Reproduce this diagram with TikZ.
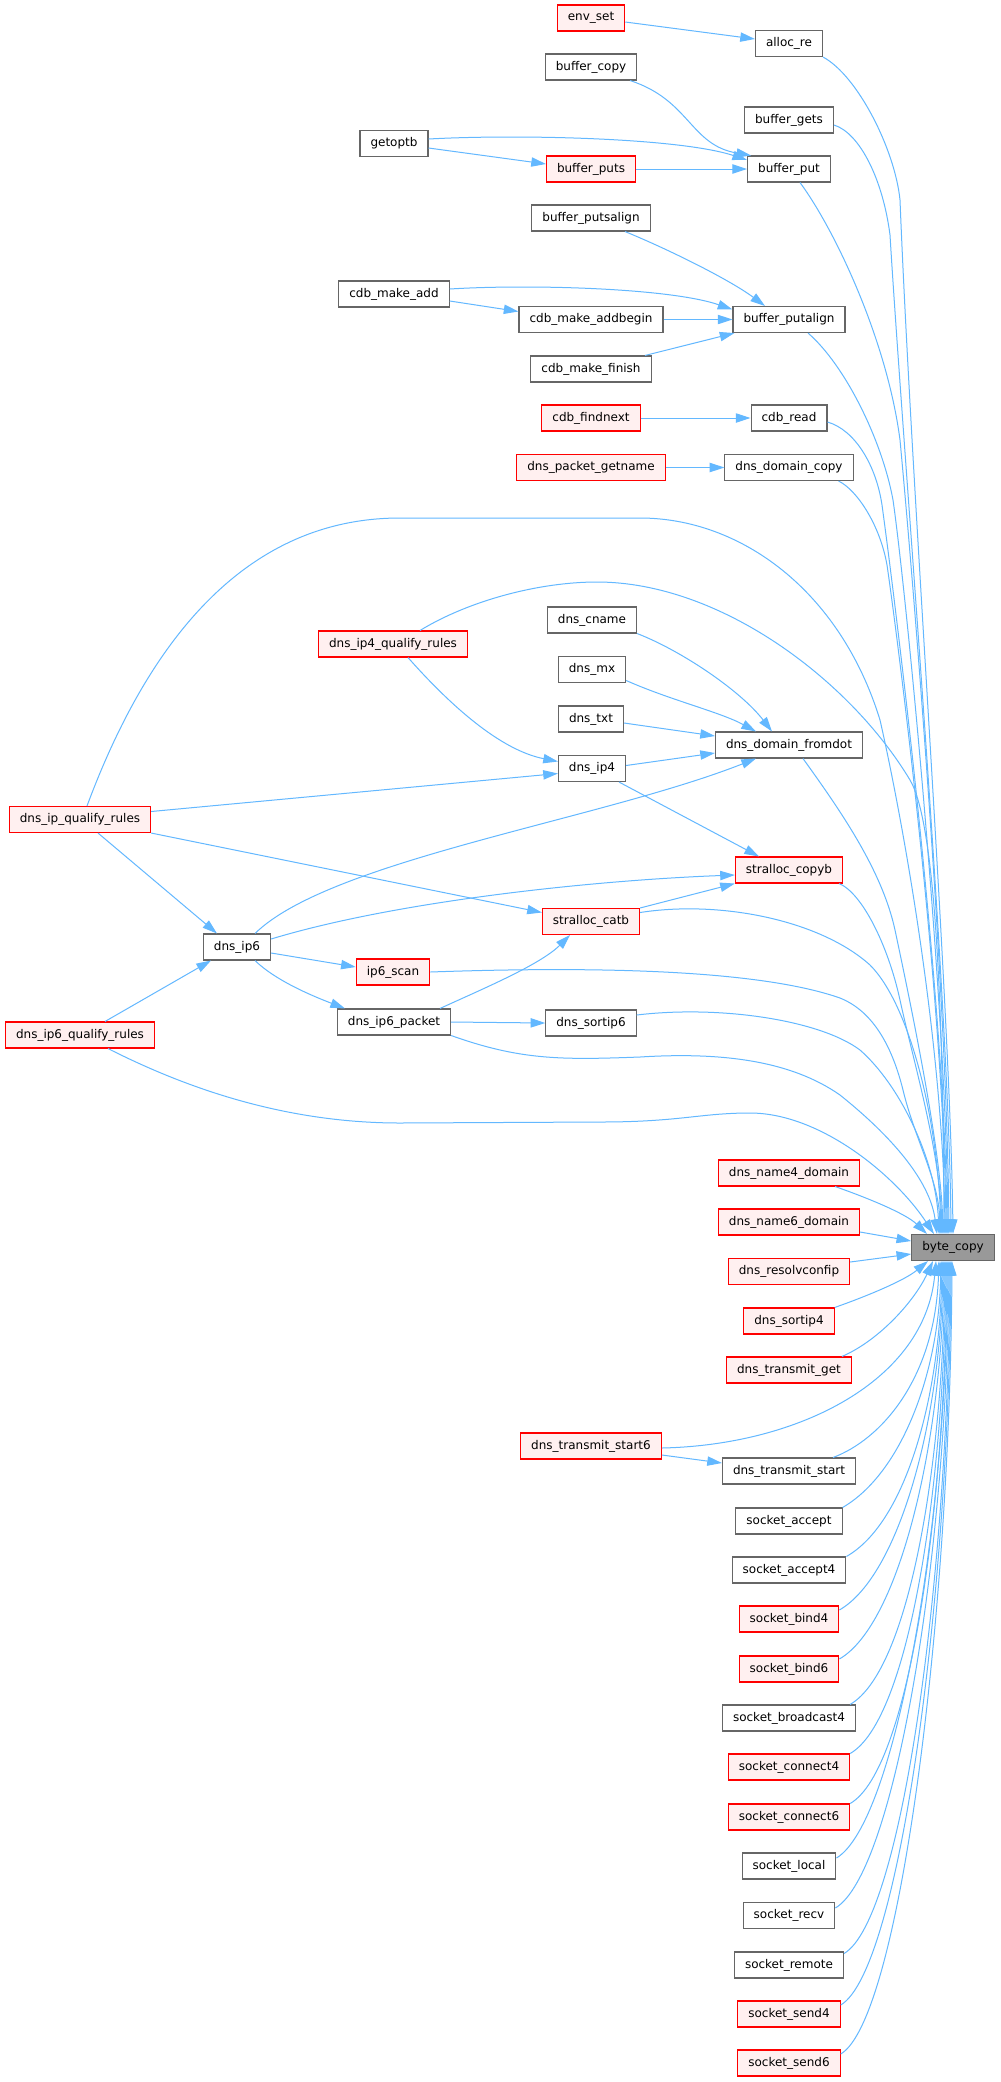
\documentclass[tikz,border=0pt]{standalone}
\usepackage{fontspec}
\setmainfont{DejaVu Sans}
\usetikzlibrary{arrows.meta,calc}
\definecolor{edgec}{HTML}{63B8FF}
\definecolor{grayb}{HTML}{666666}
\definecolor{redfill}{HTML}{FFF0F0}
\definecolor{bcfill}{HTML}{999999}
\begin{document}
\begin{tikzpicture}[x=0.75pt,y=-0.75pt,
  fn/.style={draw=grayb, fill=white, line width=0.8pt, rectangle, minimum height=19.5pt, inner xsep=7.9pt, inner ysep=0pt, font=\fontsize{9}{11}\selectfont, text=black},
  rn/.style={fn, draw=red, fill=redfill},
  bn/.style={fn, fill=bcfill},
  cl/.style={draw=edgec, line width=0.75pt, -{Triangle[length=11pt,width=7pt]}}]
\useasboundingbox[fill=white] (0,0) rectangle (1000,2082);
% nodes
\node[bn] (bc) at (953,1247.5) {byte\_copy};
\node[fn] (alloc) at (789,43.5) {alloc\_re};
\node[rn] (envset) at (591,18) {env\_set};
\node[fn] (bcopy) at (591,67) {buffer\_copy};
\node[fn] (bgets) at (789,120) {buffer\_gets};
\node[fn] (getoptb) at (394,143.5) {getoptb};
\node[rn] (bputs) at (591,169) {buffer\_puts};
\node[fn] (bput) at (789,169) {buffer\_put};
\node[fn] (bpsa) at (591,218) {buffer\_putsalign};
\node[fn] (cma) at (394,294) {cdb\_make\_add};
\node[fn] (cmab) at (591,319.5) {cdb\_make\_addbegin};
\node[fn] (bpa) at (789,319.5) {buffer\_putalign};
\node[fn] (cmf) at (591,369) {cdb\_make\_finish};
\node[rn] (cfind) at (591,418) {cdb\_findnext};
\node[fn] (cread) at (789,418) {cdb\_read};
\node[rn] (dpg) at (591,467.5) {dns\_packet\_getname};
\node[fn] (dcopy) at (789,467.5) {dns\_domain\_copy};
\node[fn] (cname) at (592,620) {dns\_cname};
\node[rn] (ip4q) at (393,644) {dns\_ip4\_qualify\_rules};
\node[fn] (mx) at (592,669.5) {dns\_mx};
\node[fn] (txt) at (591,719) {dns\_txt};
\node[fn] (dfd) at (789,745) {dns\_domain\_fromdot};
\node[fn] (ip4) at (592,768.5) {dns\_ip4};
\node[rn] (ipq) at (80,819.5) {dns\_ip\_qualify\_rules};
\node[rn] (copyb) at (789,870) {stralloc\_copyb};
\node[rn] (catb) at (591,921.5) {stralloc\_catb};
\node[fn] (ip6) at (237,947) {dns\_ip6};
\node[rn] (ip6s) at (393,972) {ip6\_scan};
\node[fn] (ip6p) at (394,1022) {dns\_ip6\_packet};
\node[fn] (sort6) at (591,1023) {dns\_sortip6};
\node[rn] (ip6q) at (80,1035) {dns\_ip6\_qualify\_rules};
\node[rn] (n4) at (789,1173) {dns\_name4\_domain};
\node[rn] (n6) at (789,1222) {dns\_name6\_domain};
\node[rn] (resolv) at (789,1271.5) {dns\_resolvconfip};
\node[rn] (sort4) at (789,1321) {dns\_sortip4};
\node[rn] (tget) at (789,1370) {dns\_transmit\_get};
\node[rn] (ts6) at (591,1446) {dns\_transmit\_start6};
\node[fn] (tstart) at (789,1471) {dns\_transmit\_start};
\node[fn] (sacc) at (789,1521) {socket\_accept};
\node[fn] (sacc4) at (789,1570) {socket\_accept4};
\node[rn] (sb4) at (789,1619) {socket\_bind4};
\node[rn] (sb6) at (789,1669) {socket\_bind6};
\node[fn] (sbc4) at (789,1718) {socket\_broadcast4};
\node[rn] (sc4) at (789,1767) {socket\_connect4};
\node[rn] (sc6) at (789,1817) {socket\_connect6};
\node[fn] (sloc) at (789,1866) {socket\_local};
\node[fn] (srecv) at (789,1915.5) {socket\_recv};
\node[fn] (srem) at (789,1965) {socket\_remote};
\node[rn] (ss4) at (789,2014) {socket\_send4};
\node[rn] (ss6) at (789,2063) {socket\_send6};
% edges into byte_copy from above
\draw[cl] (alloc.south east) .. controls (858,76) and (895,150) .. (900,200) .. controls (912,500) and (950,1000) .. (bc.north);
\draw[cl] ($(bgets.east)+(0,5)$) .. controls (860,133) and (883,180) .. (890,235) .. controls (903,450) and (949,1000) .. ($(bc.north)+(-2,0)$);
\draw[cl] ($(bput.south)+(11,0)$) .. controls (835,230) and (887,340) .. (900,440) .. controls (915,600) and (947,1000) .. ($(bc.north)+(-4,0)$);
\draw[cl] ($(bpa.south)+(19,0)$) .. controls (845,365) and (882,440) .. (893,500) .. controls (906,590) and (946,1000) .. ($(bc.north)+(-5,0)$);
\draw[cl] ($(cread.east)+(0,4)$) .. controls (855,430) and (876,465) .. (882,505) .. controls (895,600) and (945,1000) .. ($(bc.north)+(-6,0)$);
\draw[cl] ($(dcopy.south east)+(-15,0)$) .. controls (857,490) and (880,525) .. (887,565) .. controls (898,640) and (944,1000) .. ($(bc.north)+(-7,0)$);
\draw[cl] ($(ipq.north)+(7,0)$) .. controls (145,650) and (240,518) .. (400,518) -- (640,518) .. controls (740,518) and (840,590) .. (880,720) .. controls (905,830) and (943,1050) .. ($(bc.north)+(-8,0)$);
\draw[cl] ($(ip4q.north)+(27,0)$) .. controls (470,600) and (540,582) .. (597,582) .. controls (720,582) and (850,680) .. (910,780) .. controls (935,822) and (943,1000) .. ($(bc.north)+(-9,0)$);
\draw[cl] ($(dfd.south)+(14,0)$) .. controls (840,810) and (882,870) .. (895,930) .. controls (912,1010) and (941,1150) .. ($(bc.north)+(-10,0)$);
\draw[cl] ($(copyb.south east)+(-4,0)$) .. controls (862,893) and (888,945) .. (900,1000) .. controls (913,1060) and (940,1150) .. ($(bc.north)+(-11,0)$);
\draw[cl] ($(catb.east)+(0,-9)$) .. controls (720,900) and (820,920) .. (870,965) .. controls (910,1005) and (938,1120) .. ($(bc.north)+(-12,0)$);
\draw[cl] (ip6s.east) .. controls (600,966) and (760,970) .. (840,998) .. controls (875,1012) and (893,1050) .. (903,1090) .. controls (915,1140) and (939,1180) .. ($(bc.north)+(-13,0)$);
\draw[cl] ($(sort6.east)+(0,-8)$) .. controls (720,1005) and (820,1020) .. (860,1050) .. controls (900,1085) and (936,1160) .. ($(bc.north)+(-14,0)$);
\draw[cl] (ip6p.south east) .. controls (520,1060) and (560,1060) .. (640,1057) .. controls (720,1052) and (790,1060) .. (840,1095) .. controls (890,1135) and (930,1180) .. ($(bc.north)+(-16,0)$);
\draw[cl] ($(ip6q.south)+(28,0)$) .. controls (180,1085) and (280,1123) .. (400,1123) -- (600,1122) .. controls (680,1122) and (700,1113) .. (750,1113) .. controls (820,1113) and (895,1175) .. ($(bc.north)+(-19,0)$);
\draw[cl] ($(n4.south east)+(-25,0)$) .. controls (865,1197) and (905,1213) .. ($(bc.north)+(-26,0)$);
\draw[cl] ($(n6.east)+(0,10)$) -- ($(bc.west)+(0,-6.5)$);
\draw[cl] ($(resolv.east)+(0,-9.5)$) -- ($(bc.west)+(0,6.5)$);
% edges into byte_copy from below
\draw[cl] (sort4.north east) .. controls (870,1295) and (905,1280) .. ($(bc.south)+(-25,0)$);
\draw[cl] ($(tget.north east)+(-10,0)$) .. controls (880,1340) and (915,1300) .. ($(bc.south)+(-20,0)$);
\draw[cl] ($(ts6.east)+(0,2)$) .. controls (800,1445) and (925,1380) .. ($(bc.south)+(-17,0)$);
\draw[cl] ($(tstart.north east)+(-23,0)$) .. controls (880,1440) and (935,1380) .. ($(bc.south)+(-14,0)$);
\draw[cl] (sacc.north east) .. controls (902,1473) and (939,1372) .. ($(bc.south)+(-12,0)$);
\draw[cl] (sacc4.north east) .. controls (907,1522) and (940,1394) .. ($(bc.south)+(-11,0)$);
\draw[cl] ($(sb4.east)+(0,-9)$) .. controls (900,1575) and (941,1417) .. ($(bc.south)+(-10,0)$);
\draw[cl] ($(sb6.east)+(0,-10)$) .. controls (900,1624) and (942,1440) .. ($(bc.south)+(-9,0)$);
\draw[cl] ($(sbc4.north east)+(-6,0)$) .. controls (910,1670) and (943,1460) .. ($(bc.south)+(-8,0)$);
\draw[cl] (sc4.north east) .. controls (910,1719) and (944,1482) .. ($(bc.south)+(-7,0)$);
\draw[cl] (sc6.north east) .. controls (910,1769) and (945,1505) .. ($(bc.south)+(-6,0)$);
\draw[cl] ($(sloc.east)+(0,-8)$) .. controls (895,1823) and (946,1529) .. ($(bc.south)+(-5,0)$);
\draw[cl] ($(srecv.east)+(0,-7.5)$) .. controls (895,1873) and (947,1552) .. ($(bc.south)+(-4,0)$);
\draw[cl] ($(srem.north east)+(0,2)$) .. controls (903,1919) and (948,1572) .. ($(bc.south)+(-3,0)$);
\draw[cl] ($(ss4.east)+(0,-9)$) .. controls (900,1970) and (949,1595) .. ($(bc.south)+(-2,0)$);
\draw[cl] ($(ss6.east)+(0,-9)$) .. controls (900,2019) and (950,1617) .. ($(bc.south)+(-1,0)$);
% other edges
\draw[cl] ($(envset.east)+(0,4)$) -- ($(alloc.west)+(0,-4.5)$);
\draw[cl] ($(bcopy.south)+(39,0)$) .. controls (690,100) and (690,145) .. ($(bput.north west)+(4,0)$);
\draw[cl] ($(getoptb.east)+(0,-4.5)$) .. controls (520,134) and (680,138) .. ($(bput.west)+(0,-9)$);
\draw[cl] ($(getoptb.east)+(0,4.5)$) -- ($(bputs.west)+(0,-5)$);
\draw[cl] (bputs.east) -- (bput.west);
\draw[cl] ($(bpsa.south)+(34,0)$) .. controls (670,250) and (730,280) .. ($(bpa.north)+(-24,0)$);
\draw[cl] ($(cma.east)+(0,-5)$) .. controls (530,284) and (670,288) .. ($(bpa.west)+(0,-10)$);
\draw[cl] ($(cma.east)+(0,7)$) -- ($(cmab.west)+(0,-8)$);
\draw[cl] (cmab.east) -- (bpa.west);
\draw[cl] ($(cmf.north)+(54,0)$) -- ($(bpa.south west)+(2,0)$);
\draw[cl] (cfind.east) -- (cread.west);
\draw[cl] (dpg.east) -- (dcopy.west);
\draw[cl] (cname.south east) .. controls (680,650) and (740,690) .. ($(dfd.north)+(-17,0)$);
\draw[cl] ($(mx.east)+(0,11)$) .. controls (670,700) and (720,712) .. ($(dfd.north)+(-33,0)$);
\draw[cl] ($(txt.east)+(0,4)$) -- ($(dfd.west)+(0,-9)$);
\draw[cl] ($(ip4.east)+(0,-3)$) -- ($(dfd.west)+(0,8)$);
\draw[cl] ($(ip4q.south)+(15,0)$) .. controls (450,705) and (500,750) .. ($(ip4.west)+(0,-7)$);
\draw[cl] ($(ipq.east)+(0,-8)$) -- ($(ip4.west)+(0,5)$);
\draw[cl] ($(ipq.south)+(18,0)$) -- ($(ip6.north)+(-20,0)$);
\draw[cl] (ipq.south east) -- ($(catb.west)+(0,-9)$);
\draw[cl] ($(ip6.north)+(18,0)$) .. controls (330,860) and (600,820) .. ($(dfd.south)+(-33,0)$);
\draw[cl] ($(ip6.east)+(0,-8)$) .. controls (400,900) and (600,880) .. ($(copyb.west)+(0,5)$);
\draw[cl] ($(ip6.east)+(0,6)$) -- ($(ip6s.west)+(0,-5)$);
\draw[cl] ($(ip6.south)+(18,0)$) .. controls (275,980) and (310,995) .. ($(ip6p.north)+(-49,0)$);
\draw[cl] ($(ip6p.north)+(46,0)$) .. controls (480,990) and (540,965) .. ($(catb.south)+(-21,0)$);
\draw[cl] (ip6p.east) -- (sort6.west);
\draw[cl] (catb.north east) -- (copyb.south west);
\draw[cl] ($(ip4.south)+(27,0)$) -- ($(copyb.north)+(-30,0)$);
\draw[cl] ($(ip6q.north)+(25,0)$) -- ($(ip6.south)+(-26,0)$);
\draw[cl] ($(ts6.east)+(0,9)$) -- ($(tstart.west)+(0,-8)$);
\end{tikzpicture}
\end{document}
